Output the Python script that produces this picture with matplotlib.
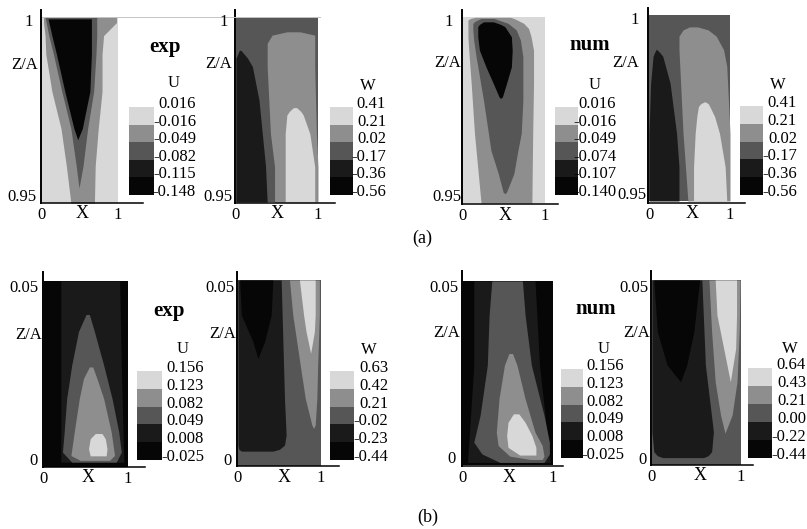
#!/usr/bin/env python3
import matplotlib
matplotlib.use("Agg")
import matplotlib.pyplot as plt
from matplotlib.lines import Line2D

W, H = 807, 529
plt.rcParams["font.family"] = ["Liberation Serif", "DejaVu Serif"]

# grey of each contour band, top of the colour key first
band_colors = ["#d8d8d8", "#8e8e8e", "#565656", "#1a1a1a", "#060606"]

# colour key labels
u_a_exp_labels = ["0.016", "-0.016", "-0.049", "-0.082", "-0.115", "-0.148"]
u_a_num_labels = ["0.016", "-0.016", "-0.049", "-0.074", "-0.107", "-0.140"]
w_a_labels = ["0.41", "0.21", "0.02", "-0.17", "-0.36", "-0.56"]
u_b_labels = ["0.156", "0.123", "0.082", "0.049", "0.008", "-0.025"]
w_b_exp_labels = ["0.63", "0.42", "0.21", "-0.02", "-0.23", "-0.44"]
w_b_num_labels = ["0.64", "0.43", "0.21", "0.00", "-0.22", "-0.44"]

# contour regions: (band, z rows, x left edge, x right edge)
a_u_exp = [
    (1, [1.0, .9985, .995, .99, .98, .97, .96, .95],
        [.02, .02, .04, .05, .13, .25, .32, .38],
        [.98, .98, .81, .79, .79, .74, .70, .69]),
    (2, [1.0, .995, .99, .98, .97, .96, .954],
        [.04, .09, .15, .26, .38, .45, .487],
        [.72, .72, .71, .68, .60, .54, .487]),
    (4, [.9995, .995, .99, .98, .97, .967],
        [.08, .13, .19, .30, .42, .47],
        [.65, .65, .65, .63, .53, .47]),
]
a_w_exp = [
    (3, [.991, .9889, .9866, .9776, .9686, .9597, .95],
        [.04, 0, 0, 0, 0, 0, 0],
        [.06, .14, .20, .28, .32, .36, .38]),
    (1, [.996, .9951, .9929, .9866, .9685, .9595, .95],
        [.62, .44, .38, .38, .42, .47, .47],
        [.78, .96, .96, .96, .98, 1, 1]),
    (0, [.9755, .9745, .9735, .9685, .9595, .95],
        [.70, .65, .62, .60, .60, .60],
        [.74, .79, .82, .90, .96, .96]),
]
a_u_num = [
    (1, [.9999, .9996, .9992, .9983, .9969, .9947, .9911, .9821, .9687, .95],
        [.15, .09, .06, .06, .06, .06, .07, .10, .14, .22],
        [.58, .62, .66, .74, .80, .83, .86, .86, .85, .84]),
    (2, [.9996, .9989, .9983, .9965, .9938, .9893, .9776, .9687, .9642, .9579, .9529, .9525],
        [.22, .15, .12, .12, .13, .16, .25, .31, .34, .43, .49, .51],
        [.38, .47, .55, .65, .70, .73, .73, .71, .67, .62, .53, .51]),
    (4, [.9987, .9980, .9974, .9947, .9911, .9866, .9821, .9785, .9781],
        [.25, .20, .18, .18, .20, .28, .37, .44, .46],
        [.37, .46, .51, .59, .60, .59, .53, .48, .46]),
]
a_w_num = [
    (3, [.9908, .9900, .9889, .9817, .9682, .9592, .95],
        [.09, .07, .05, .02, 0, 0, 0],
        [.09, .13, .17, .26, .34, .37, .37]),
    (1, [.9968, .9960, .9943, .9907, .9862, .9772, .9682, .9592, .95],
        [.50, .42, .37, .37, .38, .40, .42, .45, .48],
        [.60, .73, .83, .92, .96, .98, 1, 1, 1]),
    (0, [.9767, .9762, .9754, .9727, .9682, .9592, .95],
        [.69, .64, .61, .59, .57, .55, .55],
        [.69, .73, .75, .81, .87, .94, .96]),
]
b_u_exp = [
    (3, [.05, .0274, .0013],
        [.20, .20, .20],
        [.90, .92, .95]),
    (2, [.0410, .0364, .0274, .0184, .0094, .0040, .0013],
        [.50, .41, .33, .27, .24, .22, .33],
        [.54, .60, .71, .81, .89, .92, .86]),
    (1, [.0269, .0238, .0184, .0094, .0031, .0018],
        [.54, .47, .42, .36, .32, .43],
        [.58, .63, .71, .80, .84, .78]),
    (0, [.0090, .0076, .0049, .0030],
        [.61, .55, .53, .55],
        [.69, .73, .75, .74]),
]
b_w_exp = [
    (3, [.05, .0182, .0083, .0056, .0045, .0040],
        [0, 0, 0, 0, .01, .04],
        [.52, .56, .58, .56, .50, .42]),
    (4, [.05, .0406, .0334, .0289],
        [.02, .04, .18, .24],
        [.42, .40, .32, .24]),
    (1, [.05, .0406, .0271, .0182, .0110, .0101],
        [.62, .66, .75, .81, .89, .91],
        [.98, .98, .96, .95, .93, .91]),
    (0, [.05, .0406, .0361, .0303],
        [.74, .79, .82, .875],
        [.93, .93, .92, .875]),
]
b_u_num = [
    (3, [.05, .0271, .0007],
        [.12, .12, .05],
        [.80, .85, .97]),
    (2, [.05, .0407, .0271, .0135, .0062, .0030, .0007],
        [.32, .29, .27, .19, .12, .21, .41],
        [.66, .69, .76, .90, .96, .96, .90]),
    (1, [.0303, .0271, .0180, .0089, .0053, .0024, .0015],
        [.51, .46, .40, .37, .39, .52, .75],
        [.55, .60, .69, .80, .88, .90, .88]),
    (0, [.0139, .0116, .0080, .0048, .0027],
        [.56, .50, .485, .50, .63],
        [.62, .69, .765, .81, .81]),
]
b_w_num = [
    (3, [.05, .0270, .0090, .0036, .0025, .0020],
        [0, 0, 0, .02, .06, .12],
        [.56, .60, .69, .67, .63, .58]),
    (4, [.05, .0360, .0270, .0225],
        [.02, .06, .17, .32],
        [.535, .47, .39, .32]),
    (1, [.05, .0360, .0225, .0135, .0086],
        [.64, .67, .71, .77, .82],
        [.99, .98, .955, .90, .82]),
    (0, [.05, .0405, .0315, .0225],
        [.71, .73, .805, .88],
        [.95, .95, .94, .88]),
]

# panel layout in reference pixels
panels = [
    dict(regions=a_u_exp, bg=0, zr=(.95, 1), spine=(41, 143, 10, 203), plot=(42, 118, 17, 203),
         key=(129, 154, 107, 195), key_right=196, labels=u_a_exp_labels, name="U", name_xy=(174, 83),
         za=(25, 65), ztop=("1", 33, 22), zbot=("0.95", 37, 197), xname=82),
    dict(regions=a_w_exp, bg=2, zr=(.95, 1), spine=(235, 335, 10, 203), plot=(236, 318, 17, 202),
         key=(330, 353, 107, 195), key_right=386, labels=w_a_labels, name="W", name_xy=(368, 86),
         za=(219, 64), ztop=("1", 228, 22), zbot=("0.95", 232, 197), xname=277),
    dict(regions=a_u_num, bg=0, zr=(.95, 1), spine=(462, 558, 10, 204), plot=(463, 545, 17, 203),
         key=(555, 578, 107, 195), key_right=616, labels=u_a_num_labels, name="U", name_xy=(595, 85),
         za=(448, 63), ztop=("1", 453, 22), zbot=("0.95", 462, 197), xname=505),
    dict(regions=a_w_num, bg=2, zr=(.95, 1), spine=(648, 745, 8, 203), plot=(649, 730, 15, 201),
         key=(740, 763, 106, 195), key_right=797, labels=w_a_labels, name="W", name_xy=(778, 85),
         za=(626, 63), ztop=("1", 639, 20), zbot=("0.95", 647, 195), xname=692),
    dict(regions=b_u_exp, bg=4, zr=(0, .05), spine=(43, 145, 272, 467), plot=(44, 128, 281, 467),
         key=(137, 162, 371, 460), key_right=204, labels=u_b_labels, name="U", name_xy=(183, 349),
         za=(29, 335), ztop=("0.05", 39, 288), zbot=("0", 38, 461), xname=88),
    dict(regions=b_w_exp, bg=2, zr=(0, .05), spine=(237, 339, 272, 466), plot=(238, 321, 280, 466),
         key=(330, 354, 371, 460), key_right=388, labels=w_b_exp_labels, name="W", name_xy=(369, 350),
         za=(223, 334), ztop=("0.05", 234, 288), zbot=("0", 232, 461), xname=284),
    dict(regions=b_u_num, bg=4, zr=(0, .05), spine=(462, 563, 271, 466), plot=(463, 553, 281, 465),
         key=(561, 583, 369, 458), key_right=624, labels=u_b_labels, name="U", name_xy=(604, 349),
         za=(447, 333), ztop=("0.05", 458, 288), zbot=("0", 456, 459), xname=509),
    dict(regions=b_w_num, bg=2, zr=(0, .05), spine=(651, 753, 271, 465), plot=(652, 741, 280, 465),
         key=(748, 772, 368, 458), key_right=806, labels=w_b_num_labels, name="W", name_xy=(790, 349),
         za=(637, 333), ztop=("0.05", 648, 288), zbot=("0", 647, 460), xname=700),
]

fig = plt.figure(figsize=(W / 100, H / 100), dpi=100)


def rect(left, right, top, bottom):
    return [left / W, 1 - bottom / H, (right - left) / W, (bottom - top) / H]


def put(x, y, s, size=12, ha="center", **kw):
    fig.text(x / W, 1 - y / H, s, fontsize=size, ha=ha, va="center", **kw)


for p in panels:
    left, right, top, bottom = p["spine"]
    x0, x1, y0, y1 = p["plot"]
    z0, z1 = p["zr"]
    ax = fig.add_axes(rect(left, right, top, bottom))
    ax.patch.set_alpha(0)
    # limits set so that X 0..1 and the z range land on the plotted rectangle
    ax.set_xlim((left - x0) / (x1 - x0), (right - x0) / (x1 - x0))
    dz = (z1 - z0) / (y1 - y0)
    ax.set_ylim(z0 - (bottom - y1) * dz, z1 + (y0 - top) * dz)
    ax.fill_between([0, 1], z0, z1, color=band_colors[p["bg"]], lw=0)
    for band, z, xl, xr in p["regions"]:
        ax.fill_betweenx(z, xl, xr, color=band_colors[band], lw=0)
    for side in ["top", "right"]:
        ax.spines[side].set_visible(False)
    ax.spines["left"].set_linewidth(1.4)
    ax.spines["bottom"].set_linewidth(1.1)
    ax.set_yticks([])
    ax.set_xticks([0, 1], ["0", "1"], fontsize=12)
    ax.tick_params(axis="x", length=0, pad=3)

    key_left, key_right, key_top, key_bottom = p["key"]
    kax = fig.add_axes(rect(key_left, key_right, key_top, key_bottom))
    kax.bar([0] * 5, [1] * 5, bottom=list(range(5)), width=1, color=band_colors, lw=0, antialiased=False)
    kax.set_xlim(-.5, .5)
    kax.set_ylim(5, 0)
    kax.axis("off")
    step = (key_bottom - key_top) / 5
    for i, label in enumerate(p["labels"]):
        put(p["key_right"], key_top - 3 + i * step, label, ha="right")
    put(*p["name_xy"], p["name"])

    put(*p["za"], "Z/A")
    put(p["ztop"][1], p["ztop"][2], p["ztop"][0], ha="right")
    put(p["zbot"][1], p["zbot"][2], p["zbot"][0], ha="right")
    put(p["xname"], (bottom + 11), "X", size=13)

put(165, 47, "exp", size=15, fontweight="bold")
put(590, 45, "num", size=15, fontweight="bold")
put(169, 311, "exp", size=15, fontweight="bold")
put(596, 309, "num", size=15, fontweight="bold")
put(422, 238, "(a)", size=13)
put(428, 517, "(b)", size=13)

# faint scan line along the top of the first row
fig.add_artist(Line2D([42 / W, 320 / W], [1 - 17 / H, 1 - 17 / H], color="#c4c4c4", lw=0.7))

fig.savefig("out.png", dpi=100)
